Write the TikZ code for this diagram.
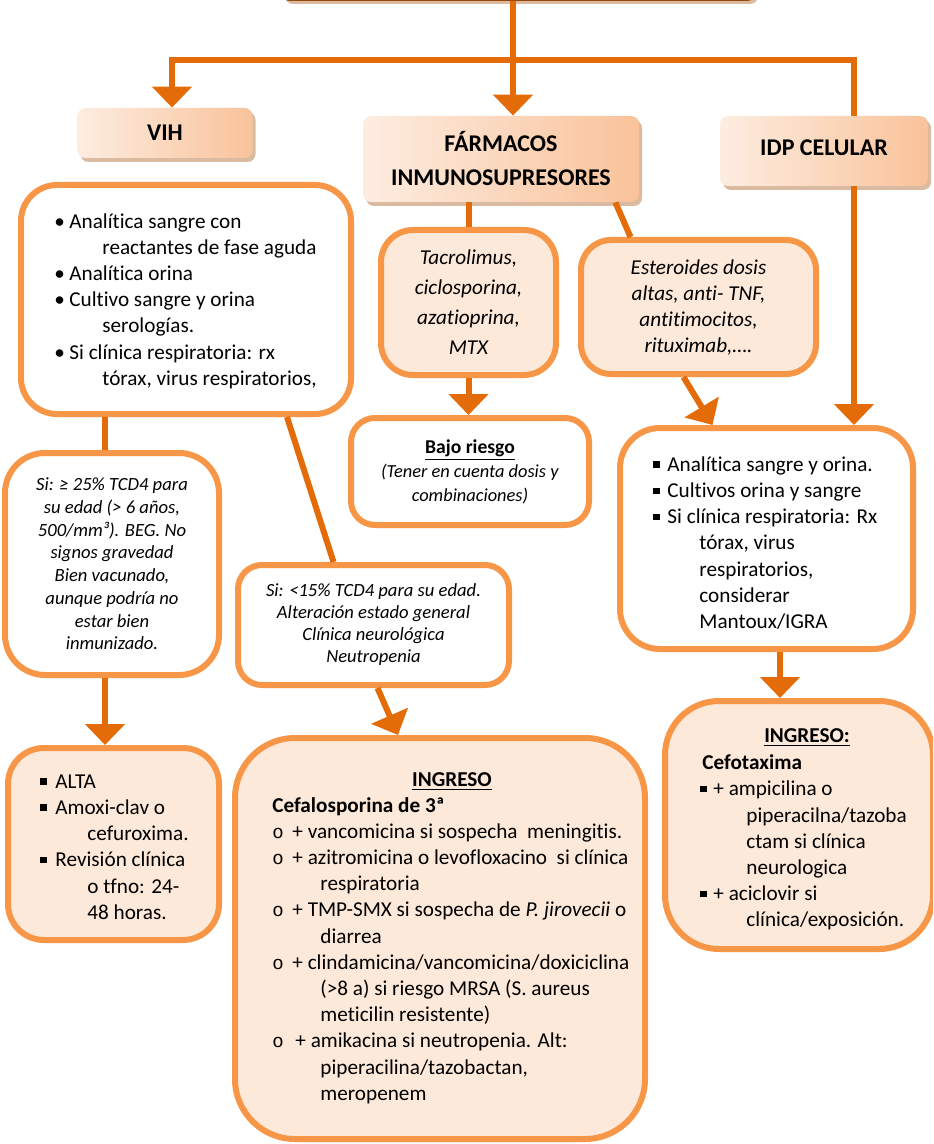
\documentclass[tikz,border=0pt]{standalone}
\usepackage{fontspec}
\setmainfont{Carlito}[Ligatures=NoCommon]
\newfontfamily\monofont{Liberation Mono}
\usepackage{tikz}
\usetikzlibrary{arrows.meta,positioning,calc,shadows}
\definecolor{obrd}{HTML}{F79646}
\definecolor{oconn}{HTML}{E36C09}
\definecolor{opeach}{HTML}{FDE9D9}
\definecolor{hdrlight}{HTML}{FDEDE1}
\definecolor{hdrdark}{HTML}{F9C29A}
\definecolor{topedge}{HTML}{984807}
\newcommand{\itm}[2]{\makebox[#1][l]{#2}}
\newcommand{\hind}[1]{\hspace*{#1}}
\newcommand{\sqb}{\raisebox{1.7pt}{\rule{3.3pt}{3.3pt}}}
\newcommand{\cib}{{\monofont\fontsize{9.5}{10}\selectfont o}}

\begin{document}
\begin{tikzpicture}[x=0.5pt,y=-0.5pt,>=Latex,
  conn/.style={draw=oconn,line width=3pt,line join=miter},
  arr/.style={conn,-{Triangle[width=19.5pt,length=10.5pt]}},
  hdr/.style={rectangle,rounded corners=4pt,inner sep=0pt,
    left color=hdrlight,right color=hdrdark,
    drop shadow={shadow xshift=1.5pt,shadow yshift=-2pt,fill=black!30!obrd,opacity=.45},
    font=\bfseries\fontsize{12}{17}\selectfont,align=center},
  wbox/.style={rectangle,draw=obrd,line width=3pt,fill=white,inner sep=0pt},
  pbox/.style={wbox,fill=opeach},
  itx/.style={font=\itshape\fontsize{9.3}{11.35}\selectfont,align=center},
  lst/.style={anchor=west,inner sep=0pt,align=left,font=\fontsize{10.6}{13.1}\selectfont},
  ttl/.style={inner sep=0pt,font=\bfseries\fontsize{10.6}{13}\selectfont}]
\useasboundingbox (0,0) rectangle (933,1144);
\clip (0,0) rectangle (933,1144);
\fill[white] (0,0) rectangle (933,1144);

% headers
\node[hdr,draw=topedge,line width=1pt,minimum width=236.5pt,minimum height=20pt] (top) at (518.5,-20) {};
\node[hdr,minimum width=87.5pt,minimum height=25pt] (vih) at (165,133) {VIH};
\node[hdr,minimum width=138pt,minimum height=43pt] (farm) at (501,159) {FÁRMACOS\\INMUNOSUPRESORES};
\node[hdr,minimum width=104pt,minimum height=35pt] (idp) at (824,151) {\raisebox{3pt}{IDP CELULAR}};

% VIH branch
\node[wbox,rounded corners=18pt,minimum width=165pt,minimum height=114.5pt] (vihlist) at (186,299.5) {};
\node[lst] (vihT) at (54,301) {\itm{7.5pt}{\textbullet}Analítica sangre con\\
  \hind{24pt}reactantes de fase aguda\\
  \itm{7.5pt}{\textbullet}Analítica orina\\
  \itm{7.5pt}{\textbullet}Cultivo sangre y orina\\
  \hind{24pt}serologías.\\
  \itm{7.5pt}{\textbullet}Si clínica respiratoria: rx\\
  \hind{24pt}tórax, virus respiratorios,};
\node[wbox,itx,rounded corners=20pt,minimum width=107pt,minimum height=111pt] (si25) at (112,564)
  {Si: ≥ 25\% TCD4 para\\su edad (> 6 años,\\500/mm³). BEG. No\\signos gravedad\\Bien vacunado,\\aunque podría no\\estar bien\\inmunizado.};
\node[wbox,itx,rounded corners=12pt,minimum width=135.5pt,minimum height=60pt,font=\itshape\fontsize{9.3}{11}\selectfont] (si15) at (373.5,625)
  {Si: <15\% TCD4 para su edad.\\Alteración estado general\\Clínica neurológica\\Neutropenia};
\node[pbox,rounded corners=18pt,minimum width=105.5pt,minimum height=96pt] (alta) at (113.5,844) {};
\node[lst] (altaT) at (40,847) {\itm{7.5pt}{\sqb}ALTA\\
  \itm{7.5pt}{\sqb}Amoxi-clav o\\
  \hind{23.5pt}cefuroxima.\\
  \itm{7.5pt}{\sqb}Revisión clínica\\
  \hind{23.5pt}o tfno: 24-\\
  \hind{23.5pt}48 horas.};
\node[pbox,rounded corners=30pt,minimum width=205pt,minimum height=200.5pt] (ingC) at (440,938.5) {};
\node[ttl] (ingCtit) at (452,782) {\underline{INGRESO}};
\begin{scope}
\clip (232,735) rectangle (627,1144);
\node[lst] (ingCT) at (272,950.5) {\textbf{Cefalosporina de 3ª}\\
  \itm{10pt}{\cib}+ vancomicina si sospecha\ \ meningitis.\\
  \itm{10pt}{\cib}+ azitromicina o levofloxacino\ \ si clínica\\
  \hind{24pt}respiratoria\\
  \itm{10pt}{\cib}+ TMP-SMX si sospecha de \textit{P. jirovecii} o\\
  \hind{24pt}diarrea\\
  \itm{10pt}{\cib}+ clindamicina/vancomicina/doxiciclina\\
  \hind{24pt}(>8 a) si riesgo MRSA (S. aureus\\
  \hind{24pt}meticilin resistente)\\
  \itm{11.5pt}{\cib}+ amikacina si neutropenia. Alt:\\
  \hind{24pt}piperacilina/tazobactan,\\
  \hind{24pt}meropenem};
\end{scope}

% farmacos branch
\node[pbox,rounded corners=16pt,minimum width=87.5pt,minimum height=72.5pt,align=center,font=\itshape\fontsize{10.6}{15}\selectfont] (tac) at (468.5,302.5)
  {Tacrolimus,\\ciclosporina,\\azatioprina,\\MTX};
\node[pbox,rounded corners=15pt,minimum width=117.5pt,minimum height=67pt,align=center,font=\itshape\fontsize{10.6}{13}\selectfont] (ester) at (698.5,307)
  {Esteroides dosis\\altas, anti- TNF,\\antitimocitos,\\rituximab,….};
\node[wbox,rounded corners=12pt,minimum width=119pt,minimum height=53.5pt,align=center,font=\fontsize{9.2}{12}\selectfont] (bajo) at (470,471.5)
  {{\bfseries\fontsize{9.8}{12}\selectfont\underline{Bajo riesgo}}\\\textit{(Tener en cuenta dosis y}\\\textit{combinaciones)}};

% IDP branch
\node[wbox,rounded corners=20pt,minimum width=146.5pt,minimum height=110.5pt] (idplist) at (766.5,538.5) {};
\node[lst] (idpT) at (653,543) {\itm{7pt}{\sqb}Analítica sangre y orina.\\
  \itm{7pt}{\sqb}Cultivos orina y sangre\\
  \itm{7pt}{\sqb}Si clínica respiratoria: Rx\\
  \hind{23pt}tórax, virus\\
  \hind{23pt}respiratorios,\\
  \hind{23pt}considerar\\
  \hind{23pt}Mantoux/IGRA};
\node[pbox,rounded corners=27pt,minimum width=134pt,minimum height=124pt] (ingR) at (799,825) {};
\node[ttl] (ingRtit) at (807,738) {\underline{INGRESO:}};
\node[lst] (ingRT) at (700,842.5) {\hind{1pt}\textbf{Cefotaxima}\\
  \itm{6.5pt}{\sqb}+ ampicilina o\\
  \hind{23pt}piperacilna/tazoba\\
  \hind{23pt}ctam si clínica\\
  \hind{23pt}neurologica\\
  \itm{6.5pt}{\sqb}+ aciclovir si\\
  \hind{23pt}clínica/exposición.};

% connectors
\coordinate (hL) at (172,60);
\coordinate (hM) at (513,60);
\coordinate (hR) at (854,60);
\coordinate (vL) at (105,0);
\coordinate (vR) at (780,0);
\draw[arr] (idp.north -| hR) -- (hR) -- (hL) -- (vih.north -| hL);
\draw[arr] (top.south -| hM) -- (farm.north -| hM);
\draw[arr] (idp.south -| hR) -- (idplist.north -| hR);
\draw[conn] (farm.south -| tac.north) -- (tac.north);
\draw[conn] ([xshift=-12pt]farm.south east) -- ([xshift=-34pt]ester.north);
\draw[arr] (tac.south) -- (bajo.north -| tac.south);
\draw[arr] ([xshift=-7.5pt]ester.south) -- ([xshift=-27pt]idplist.north);
\draw[conn] (vihlist.south -| vL) -- (si25.north -| vL);
\draw[arr] (si25.south -| vL) -- (alta.north -| vL);
\draw[conn] ([xshift=50.5pt]vihlist.south) -- ([xshift=-20pt]si15.north);
\draw[arr] ([xshift=2pt]si15.south) -- ([xshift=-21pt]ingC.north);
\draw[arr] (idplist.south -| vR) -- (ingR.north -| vR);
\end{tikzpicture}
\end{document}
